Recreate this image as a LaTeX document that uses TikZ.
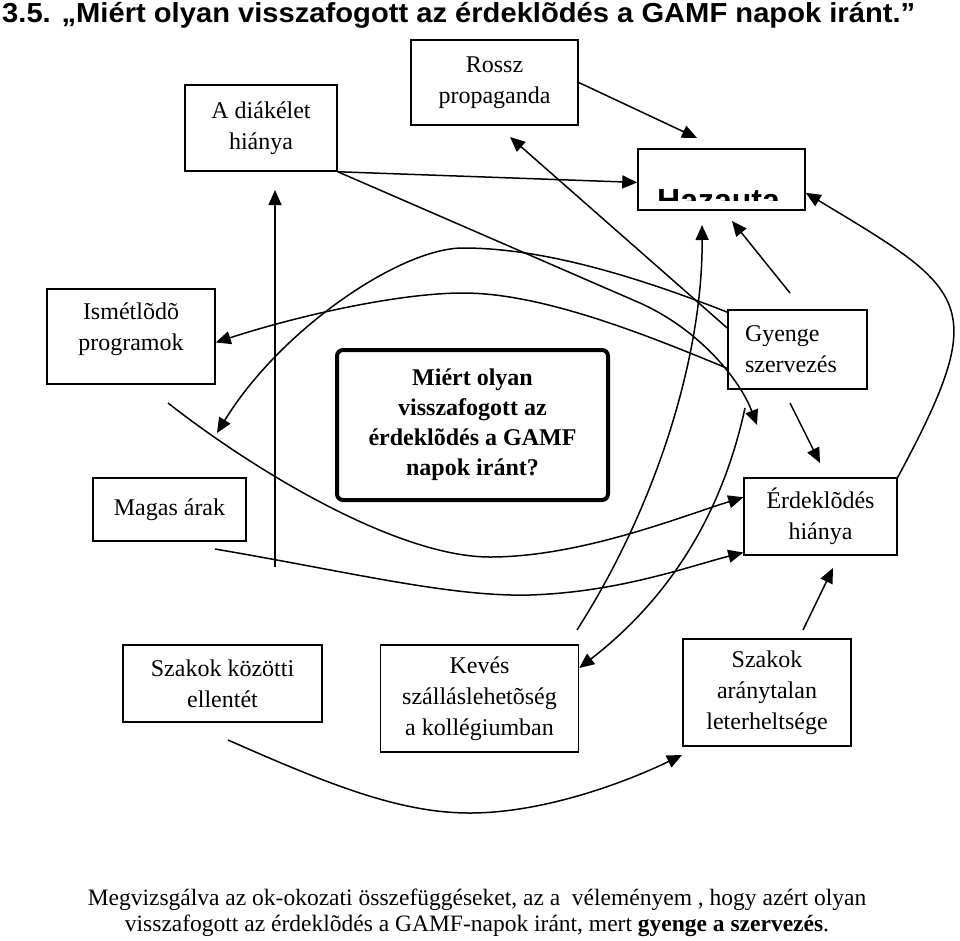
\documentclass[tikz,border=0pt]{standalone}
\usepackage{fontspec}
\setmainfont{Liberation Serif}
\newfontfamily\titlefont[FakeStretch=1.06]{Liberation Sans}
\newfontfamily\hazafont{Liberation Sans}
\usetikzlibrary{arrows.meta}

\begin{document}
\begin{tikzpicture}[x=1pt,y=-1pt]
\tikzset{box/.style={draw,line width=1.5pt,inner sep=2pt,align=center,font=\fontsize{24}{31}\selectfont}}
\tikzset{question/.style={draw,line width=4pt,rounded corners=6pt,inner sep=2pt,align=center,font=\bfseries\fontsize{24}{30}\selectfont}}
\tikzset{arr/.style={line width=1.5pt,-{Triangle[length=15pt,width=13pt]}}}

\useasboundingbox (0,0) rectangle (960,940);

\node[anchor=base west,inner sep=0pt,font=\titlefont\bfseries\fontsize{27.5}{30}\selectfont] (title) at (2,22) {3.5. „Miért olyan visszafogott az érdeklõdés a GAMF napok iránt.”};

% boxes
\node[box,minimum width=167pt,minimum height=85pt] (rossz) at (494.5,82.5) {Rossz\\propaganda};
\node[box,minimum width=152pt,minimum height=86pt] (diak) at (261,128) {A diákélet\\hiánya};
\node[box,minimum width=167pt,minimum height=61pt] (haza) at (721.5,179.5) {};
\begin{scope}
\clip (639,150) rectangle (804,200);
\node[anchor=base west,inner sep=0pt,font=\hazafont\bfseries\fontsize{32}{36}\selectfont] (hazatext) at (657,211) {Hazauta};
\end{scope}
\node[box,minimum width=168pt,minimum height=95pt] (ismet) at (131,336.5) {Ismétlõdõ\\programok\rule[-20pt]{0pt}{1pt}};
\node[question,minimum width=271pt,minimum height=150pt] (quest) at (472.5,425) {Miért olyan\\visszafogott az\\érdeklõdés a GAMF\\napok iránt?};
\node[box,align=left,text width=105pt,minimum width=139pt,minimum height=79pt] (gyenge) at (797.5,349.5) {Gyenge\\szervezés};
\node[box,minimum width=153pt,minimum height=63pt] (magas) at (169.5,509.5) {Magas árak};
\node[box,minimum width=153pt,minimum height=77pt] (erdek) at (820.5,516.5) {Érdeklõdés\\hiánya};
\node[box,minimum width=199pt,minimum height=77pt] (szkoz) at (222.5,683.5) {Szakok közötti\\ellentét};
\node[box,minimum width=198pt,minimum height=107pt] (keves) at (479.5,698.5) {Kevés\\szálláslehetõség\\a kollégiumban};
\node[box,minimum width=168pt,minimum height=107pt] (szarany) at (767,692.5) {Szakok\\aránytalan\\leterheltsége};

% free ends
\coordinate (hzTop) at (697,138);
\coordinate (rpTip) at (510,137);
\coordinate (mgTip) at (217,433);
\coordinate (mgA) at (168,403);
\coordinate (mgB) at (215,549);
\coordinate (vBot) at (275,567);
\coordinate (vTop) at (275,190);
\coordinate (kvA) at (745,408);
\coordinate (kvB) at (577,630);
\coordinate (hzBot) at (702,225);
\coordinate (gyTop) at (790,293);
\coordinate (hzBot2) at (732,221);
\coordinate (gyBot) at (790,403);
\coordinate (erTop) at (820,463);
\coordinate (saTop) at (803,630);
\coordinate (erBot) at (833,568);
\coordinate (skBot) at (228,740);
\coordinate (saTip) at (682,755);
\coordinate (gyLow) at (757,425);

% connectors
\draw[arr] (diak.south east) -- (haza.182);
\draw[arr] (diak.south east) -- (640,303) .. controls (700,330) and (740,380) .. (gyLow);
\draw[arr] (rossz.east) -- (hzTop);
\draw[arr] (gyenge.163) -- (rpTip);
\draw[arr] (gyenge.152) .. controls (600,262) and (520,248) .. (463,248) .. controls (400,248) and (280,330) .. (mgTip);
\draw[arr] (gyenge.195) .. controls (640,332) and (540,293) .. (463,293) .. controls (400,293) and (300,315) .. (ismet.356);
\draw[arr] (mgA) .. controls (260,475) and (400,557) .. (490,557) .. controls (580,557) and (680,517) .. (erdek.166);
\draw[arr] (mgB) .. controls (350,572) and (450,597) .. (530,595) .. controls (620,592) and (690,566) .. (erdek.205);
\draw[arr] (vBot) -- (vTop);
\draw[arr] (kvA) .. controls (725,500) and (680,590) .. (keves.17);
\draw[arr] (kvB) .. controls (660,500) and (703,350) .. (hzBot);
\draw[arr] (gyTop) -- (hzBot2);
\draw[arr] (erdek.north east) .. controls (992,302) and (969,291) .. (haza.351);
\draw[arr] (gyBot) -- (erTop);
\draw[arr] (saTop) -- (erBot);
\draw[arr] (skBot) .. controls (330,785) and (400,813) .. (470,813) .. controls (540,813) and (620,785) .. (saTip);

\node[anchor=base,align=center,inner sep=0pt,font=\fontsize{23.5}{26}\selectfont] (concl) at (477,931) {Megvizsgálva az ok-okozati összefüggéseket, az a\ \ véleményem , hogy azért olyan\\visszafogott az érdeklõdés a GAMF-napok iránt, mert \textbf{gyenge a szervezés}.};
\end{tikzpicture}
\end{document}
